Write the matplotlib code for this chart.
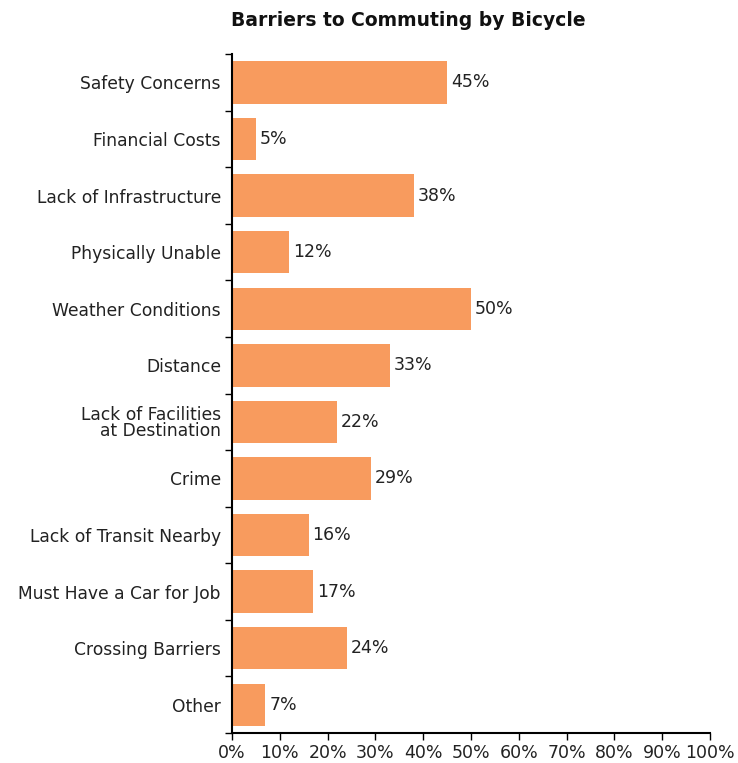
import matplotlib.pyplot as plt
import numpy as np

# Survey responses: share of respondents naming each barrier
barriers = ['Safety Concerns', 'Financial Costs', 'Lack of Infrastructure',
            'Physically Unable', 'Weather Conditions', 'Distance',
            'Lack of Facilities\nat Destination', 'Crime',
            'Lack of Transit Nearby', 'Must Have a Car for Job',
            'Crossing Barriers', 'Other']
percent = [45, 5, 38, 12, 50, 33, 22, 29, 16, 17, 24, 7]
xticks = [0, 10, 20, 30, 40, 50, 60, 70, 80, 90, 100]

fig = plt.figure(figsize=(7.38, 7.63), dpi=100)
ax = fig.add_axes([0.3144, 0.0393, 0.6477, 0.8897])

y = np.arange(len(barriers))
ax.barh(y, percent, height=0.75, color='#f89b5e', edgecolor='none')

for yi, v in zip(y, percent):
    ax.text(v + 0.8, yi, f'{v}%', va='center', ha='left', fontsize=12.5, color='#222222')

ax.set_xlim(0, 100)
ax.set_ylim(len(barriers) - 0.5, -0.5)
ax.set_yticks(y)
ax.set_yticklabels(barriers, fontsize=12.3, color='#222222', linespacing=0.9)
ax.set_yticks(np.arange(-0.5, len(barriers)), minor=True)
ax.tick_params(axis='y', which='major', length=0, pad=8)
ax.tick_params(axis='y', which='minor', length=5, width=1)

ax.set_xticks(xticks)
ax.set_xticklabels([f'{t}%' for t in xticks], fontsize=12.5, color='#222222')
ax.tick_params(axis='x', length=5, width=1, pad=3)

for side in ['top', 'right']:
    ax.spines[side].set_visible(False)
ax.spines['left'].set_linewidth(1.5)
ax.spines['bottom'].set_linewidth(1.5)

fig.text(408 / 738, 1 - 20 / 763, 'Barriers to Commuting by Bicycle',
         ha='center', va='center', fontsize=13.5, fontweight='bold', color='#111111')

fig.savefig('out.png', dpi=100)
